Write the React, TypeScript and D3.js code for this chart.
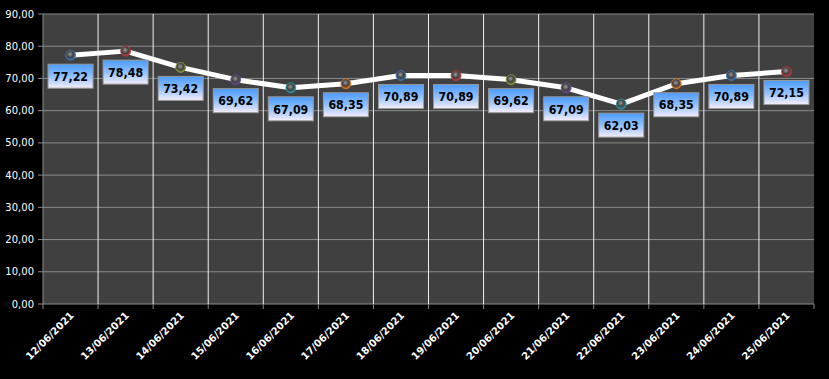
import React from "react";
import * as d3 from "d3";

const categories = ["12/06/2021","13/06/2021","14/06/2021","15/06/2021","16/06/2021","17/06/2021","18/06/2021","19/06/2021","20/06/2021","21/06/2021","22/06/2021","23/06/2021","24/06/2021","25/06/2021"];
const values = [77.22,78.48,73.42,69.62,67.09,68.35,70.89,70.89,69.62,67.09,62.03,68.35,70.89,72.15];
const yTicks = [0,10,20,30,40,50,60,70,80,90];
const markerColors = ["#3a78c0","#c03a3a","#8a9a3a","#6a4a9a","#2a9ab0","#e07a20"];

const W = 829, H = 379;
const L = 43, R = 814, T = 14, B = 304;

export default function App() {
  const x = d3.scaleBand<string>().domain(categories).range([L, R]);
  const y = d3.scaleLinear().domain([0, 90]).range([B, T]);
  const cx = (c: string) => (x(c) as number) + x.bandwidth() / 2;
  const line = d3.line<number>().x((_, i) => cx(categories[i])).y(v => y(v));
  const fmt = (v: number) => v.toFixed(2).replace(".", ",");
  return (
    <svg width={W} height={H} style={{ position: "absolute", left: 0, top: 0, background: "#000" }}>
      <defs>
        <linearGradient id="lbl" x1="0" y1="0" x2="0" y2="1">
          <stop offset="0" stopColor="#4b9bff" />
          <stop offset="0.5" stopColor="#8fc0ff" />
          <stop offset="1" stopColor="#f6eefa" />
        </linearGradient>
        {markerColors.map((c, i) => (
          <radialGradient key={i} id={"mk" + i} cx="0.45" cy="0.4" r="0.6">
            <stop offset="0" stopColor="#9a9a9a" />
            <stop offset="0.55" stopColor="#404040" />
            <stop offset="1" stopColor={c} />
          </radialGradient>
        ))}
      </defs>
      <rect x={0} y={0} width={W} height={H} fill="#000" />
      <rect x={L} y={T} width={R - L} height={B - T} fill="#404040" />
      {yTicks.map(t => (
        <g key={t}>
          <line x1={L} x2={R} y1={y(t)} y2={y(t)} stroke="#8a8a8a" strokeWidth={1} />
          <line x1={L - 5} x2={L} y1={y(t)} y2={y(t)} stroke="#8a8a8a" strokeWidth={1} />
          <text x={34} y={y(t)} dy="0.35em" textAnchor="end" fill="#fff" fontFamily="DejaVu Sans" fontSize={10}>{fmt(t)}</text>
        </g>
      ))}
      {categories.map((c, i) => (
        <g key={c}>
          {i > 0 && <line x1={x(c)} x2={x(c)} y1={T} y2={B} stroke="#f0f0f0" strokeWidth={1} />}
          <line x1={x(c)} x2={x(c)} y1={B} y2={B + 5} stroke="#8a8a8a" strokeWidth={1} />
          <text transform={`translate(${cx(c) + 4},${B + 12}) rotate(-45)`} textAnchor="end" fill="#fff" fontFamily="DejaVu Sans" fontWeight="bold" fontSize={10}>{c}</text>
        </g>
      ))}
      <line x1={R} x2={R} y1={B} y2={B + 5} stroke="#8a8a8a" />
      <line x1={L} x2={L} y1={T} y2={B} stroke="#8a8a8a" />
      <path d={line(values) || ""} fill="none" stroke="#fff" strokeWidth={5} strokeLinejoin="round" />
      {values.map((v, i) => (
        <circle key={i} cx={cx(categories[i])} cy={y(v)} r={5} fill={`url(#mk${i % markerColors.length})`} stroke={markerColors[i % markerColors.length]} strokeWidth={0.8} />
      ))}
      {values.map((v, i) => {
        const px = cx(categories[i]), py = y(v);
        return (
          <g key={"l" + i}>
            <rect x={px - 22.5} y={py + 9} width={45} height={24} fill="url(#lbl)" stroke="#9a9a9a" strokeWidth={1} />
            <text x={px - 17.5} y={py + 21} dy="0.36em" textLength={35} lengthAdjust="spacingAndGlyphs" fill="#000" fontFamily="DejaVu Sans" fontWeight="bold" fontSize={13}>{fmt(v)}</text>
          </g>
        );
      })}
    </svg>
  );
}
